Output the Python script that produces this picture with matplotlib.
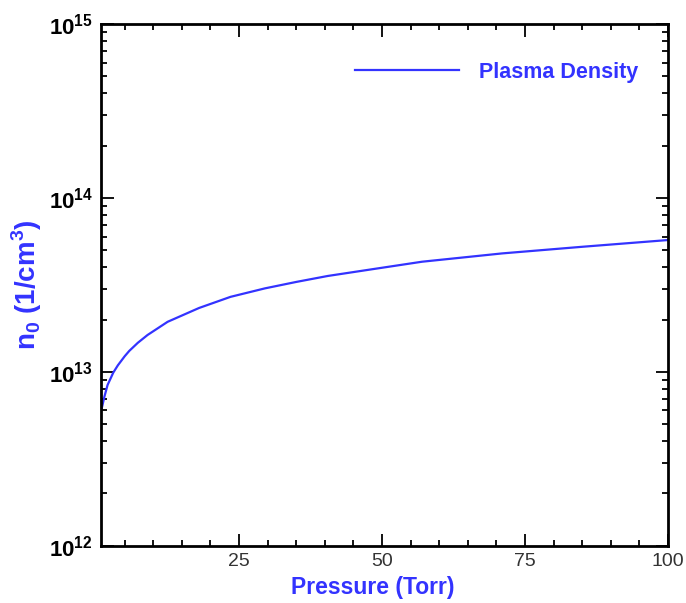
import numpy as np
import matplotlib
matplotlib.use('Agg')
import matplotlib.pyplot as plt
from matplotlib.ticker import FixedLocator, FuncFormatter, LogLocator, NullFormatter

plt.rcParams['font.family'] = ['Liberation Sans', 'DejaVu Sans']
plt.rcParams['mathtext.fontset'] = 'custom'
plt.rcParams['mathtext.rm'] = 'Liberation Sans:bold'
plt.rcParams['mathtext.bf'] = 'Liberation Sans:bold'

# pressure (Torr) vs plasma density (1/cm^3)
pressure = [1, 1.45, 2, 3, 3.8, 5, 5.8, 7.3, 9, 12.5, 18, 23.5, 29.5, 35, 40.5,
            48, 57, 71, 85, 100]
density = [6.2e12, 7.2e12, 8.4e12, 9.9e12, 1.09e13, 1.23e13, 1.32e13, 1.47e13,
           1.63e13, 1.94e13, 2.33e13, 2.70e13, 3.02e13, 3.29e13, 3.56e13,
           3.88e13, 4.30e13, 4.80e13, 5.24e13, 5.73e13]
x_major = [25, 50, 75, 100]
series_name = 'Plasma Density'

blue = '#3333ff'

fig = plt.figure(figsize=(6.86, 6.03), dpi=100)
ax = fig.add_axes([0.1472, 0.095, 0.8266, 0.865])

ax.plot(pressure, density, color=blue, lw=1.6, label=series_name)

ax.set_yscale('log')
ax.set_xlim(0.85, 100)
ax.set_ylim(1e12, 1e15)

ax.xaxis.set_major_locator(FixedLocator(x_major))
ax.xaxis.set_minor_locator(FixedLocator(np.arange(5, 100, 5)))
ax.yaxis.set_major_locator(LogLocator(base=10, numticks=10))
ax.yaxis.set_minor_locator(LogLocator(base=10, subs=np.arange(2, 10), numticks=20))
ax.yaxis.set_minor_formatter(NullFormatter())
ax.yaxis.set_major_formatter(FuncFormatter(lambda v, pos: r'$\mathbf{10^{%d}}$' % round(np.log10(v))))

for s in ax.spines.values():
    s.set_linewidth(2)
ax.tick_params(which='both', direction='in', top=True, right=True, width=1.3)
ax.tick_params(which='major', length=9)
ax.tick_params(which='minor', length=4.5)
ax.tick_params(axis='x', labelsize=14, labelcolor='#333333', pad=5)
ax.tick_params(axis='y', labelsize=16, pad=6)

ax.set_xlabel('Pressure (Torr)', color=blue, fontsize=16.5, fontweight='bold')
ax.xaxis.set_label_coords(0.48, -0.058)
ax.set_ylabel(r'n$_0$ (1/cm$^3$)', color=blue, fontsize=20, fontweight='bold')
ax.yaxis.set_label_coords(-0.1, 0.5)

leg = ax.legend(loc='center right', bbox_to_anchor=(0.947, 0.908), frameon=False,
                handlelength=4.8, handletextpad=0.93, borderpad=0, borderaxespad=0,
                prop={'size': 15.5, 'weight': 'bold'})
for t in leg.get_texts():
    t.set_color(blue)

fig.savefig('out.png', dpi=100)
